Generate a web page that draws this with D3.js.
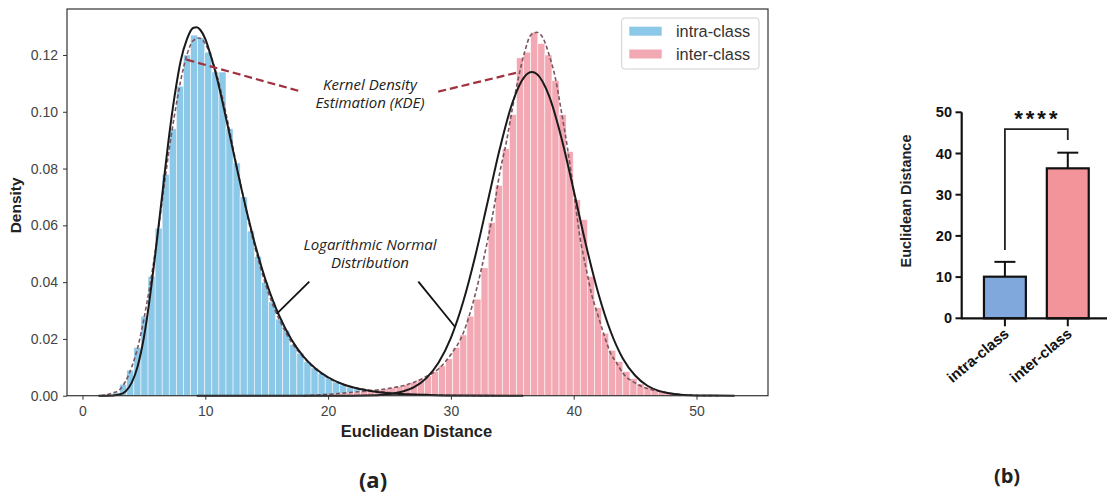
<!DOCTYPE html>
<html><head><meta charset="utf-8">
<script src="https://cdn.jsdelivr.net/npm/d3@7"></script>
<style>body{margin:0;background:#fff}svg{display:block}</style>
</head><body>
<svg id="chart" width="1107" height="495"></svg>
<script>
// ---------- data: panel (a) histogram ----------
const binStart = 1.3;
const binWidth = 0.577;
const intraHist = [0,0.0003,0.001,0.004,0.009,0.017,0.028,0.042,0.059,0.078,0.094,0.109,0.120,0.127,0.126,0.121,0.114,0.114,0.094,0.082,0.070,0.058,0.049,0.040,0.033,0.027,0.023,0.018,0.015,0.012,0.0098,0.0078,0.0062,0.0048,0.0038,0.003,0.0024,0.0019,0.0015,0.0012,0.0009,0.0007,0.0005,0.0004,0.0003,0.0002,0.0001];
const interHist = [0,0,0,0,0,0,0,0,0,0,0,0,0,0,0,0,0,0,0,0,0,0,0,0,0,0,0,0,0,0,0,0,0.0004,0.0006,0.0008,0.001,0.0013,0.0016,0.0018,0.0021,0.0024,0.0028,0.0033,0.0039,0.0047,0.0058,0.0070,0.0085,0.0105,0.013,0.017,0.0214,0.028,0.034,0.045,0.061,0.074,0.087,0.099,0.119,0.121,0.128,0.124,0.120,0.111,0.099,0.086,0.069,0.062,0.042,0.031,0.022,0.016,0.012,0.0085,0.006,0.0042,0.003,0.002,0.0014,0.0009,0.0006,0.0003,0.0002,0.0001];
// KDE curves [distance, density]
const intraKDE = [[1.5,0],[2.5,0.001],[3,0.002],[3.5,0.005],[4,0.010],[4.5,0.017],[5,0.027],[5.5,0.039],[6,0.053],[6.5,0.069],[7,0.085],[7.5,0.099],[8,0.111],[8.5,0.120],[9,0.125],[9.5,0.126],[10,0.124],[10.5,0.119],[11,0.112],[11.5,0.103],[12,0.093],[12.5,0.082],[13,0.072],[13.5,0.062],[14,0.053],[14.5,0.045],[15,0.038],[15.5,0.032],[16,0.027],[17,0.019],[18,0.0135],[19,0.0093],[20,0.0063],[21,0.0043],[22,0.003],[23,0.0022],[24,0.0016],[25,0.0011],[26,0.0007],[27,0.0004],[28,0.0002],[30,0.0001],[34,0]];
const interKDE = [[18,0],[20,0.0005],[22,0.0012],[24,0.002],[25,0.0026],[26,0.0034],[27,0.0047],[28,0.0068],[29,0.0095],[30,0.0145],[31,0.022],[32,0.036],[32.5,0.045],[33,0.055],[33.5,0.066],[34,0.079],[34.5,0.089],[35,0.101],[35.5,0.112],[36,0.121],[36.5,0.127],[37,0.128],[37.5,0.126],[38,0.120],[38.5,0.112],[39,0.100],[39.5,0.087],[40,0.072],[40.5,0.056],[41,0.045],[41.5,0.035],[42,0.028],[42.5,0.021],[43,0.015],[43.5,0.0115],[44,0.008],[45,0.0045],[46,0.0025],[47,0.0015],[48,0.0008],[49,0.0003],[50,0.0001],[52,0]];
// log-normal fits [distance, density]
const intraFit = [[1.3,0],[2.5,0.0001],[3,0.0004],[3.5,0.0015],[4,0.0045],[4.5,0.0105],[5,0.0205],[5.5,0.035],[6,0.0525],[6.5,0.071],[7,0.0897],[7.5,0.1055],[8,0.118],[8.5,0.1255],[9,0.1295],[9.3,0.1298],[9.6,0.1288],[10,0.1257],[10.5,0.119],[11,0.111],[11.5,0.1015],[12,0.0916],[12.5,0.0815],[13,0.0718],[13.5,0.0627],[14,0.0541],[14.5,0.0465],[15,0.0396],[15.5,0.0336],[16,0.0284],[17,0.0199],[18,0.0138],[19,0.0095],[20,0.0065],[21,0.0044],[22,0.003],[23,0.002],[24,0.0013],[26,0.0006],[28,0.0003],[30,0.0001],[35.9,0]];
const interFit = [[9.3,0],[20,0],[24,0.0002],[25,0.0006],[26,0.0014],[27,0.003],[28,0.0062],[29,0.0117],[30,0.0204],[31,0.0331],[32,0.0495],[33,0.0684],[34,0.0873],[35,0.1031],[36,0.1124],[36.6,0.114],[37,0.1133],[38,0.1055],[39,0.0908],[40,0.0723],[41,0.0531],[42,0.0361],[43,0.0227],[44,0.0131],[45,0.0071],[46,0.0035],[47,0.0016],[48,0.0007],[50,0.0001],[53.1,0]];
const xTicksA = [0,10,20,30,40,50];
const yTicksA = [0,0.02,0.04,0.06,0.08,0.10,0.12];
const legendLabels = ["intra-class","inter-class"];

// ---------- data: panel (b) ----------
const groups = ["intra-class","inter-class"];
const means = [10.1, 36.4];
const sds = [3.6, 3.8];
const yTicksB = [0,10,20,30,40,50];
const bracketLegs = [16.6, 45.9, 43.3]; // left foot, top, right foot
const sigLabel = "****";

const svg = d3.select("#chart");
const blue = "#8cc8e8", pink = "#f3a9b3";

// ---------- panel (a) ----------
const x = d3.scaleLinear().domain([-1.26, 55.82]).range([67, 768]);
const y = d3.scaleLinear().domain([0, 0.1362]).range([395.7, 9]);
const gA = svg.append("g");

function drawHist(arr, color){
  gA.append("g").selectAll("rect").data(arr.map((h,i)=>({h,i})).filter(d=>d.h>0)).join("rect")
    .attr("x", d=>x(binStart + d.i*binWidth))
    .attr("width", x(binWidth)-x(0))
    .attr("y", d=>y(d.h))
    .attr("height", d=>y(0)-y(d.h))
    .attr("fill", color)
    .attr("stroke", "#fff").attr("stroke-width", 0.7).attr("stroke-opacity", 0.75);
}
drawHist(intraHist, blue);
drawHist(interHist, pink);

const line = d3.line().x(d=>x(d[0])).y(d=>y(d[1])).curve(d3.curveMonotoneX);
[intraKDE, interKDE].forEach(k=>{
  gA.append("path").attr("d", line(k)).attr("fill","none")
    .attr("stroke","#7a5660").attr("stroke-width",1.6).attr("stroke-dasharray","4,2.5");
});
[intraFit, interFit].forEach(k=>{
  gA.append("path").attr("d", line(k)).attr("fill","none")
    .attr("stroke","#1a1a1a").attr("stroke-width",2);
});

// frame
gA.append("rect").attr("x", x.range()[0]).attr("y", y.range()[1])
  .attr("width", x.range()[1]-x.range()[0]).attr("height", y.range()[0]-y.range()[1])
  .attr("fill","none").attr("stroke","#333").attr("stroke-width",1.2);

// axes
const axX = gA.append("g").attr("transform",`translate(0,${y(0)})`)
  .call(d3.axisBottom(x).tickValues(xTicksA).tickSize(4).tickFormat(d3.format("d")));
const axY = gA.append("g").attr("transform",`translate(${x.range()[0]},0)`)
  .call(d3.axisLeft(y).tickValues(yTicksA).tickSize(4).tickFormat(d3.format(".2f")));
[axX, axY].forEach(a=>{
  a.select(".domain").remove();
  a.selectAll(".tick line").attr("stroke","#333");
  a.selectAll("text").attr("font-family","Liberation Sans, Arial, sans-serif").attr("font-size",14).attr("fill","#444");
});
axX.selectAll("text").attr("dy","0.95em");
axY.selectAll("text").attr("dx","-2");

gA.append("text").attr("x", (x.range()[0]+x.range()[1])/2 - 1).attr("y", 437)
  .attr("text-anchor","middle").attr("font-family","Liberation Sans, Arial, sans-serif")
  .attr("font-weight","bold").attr("font-size",16.5).attr("fill","#222").text("Euclidean Distance");
gA.append("text").attr("transform",`translate(21,${(y.range()[0]+y.range()[1])/2+3}) rotate(-90)`)
  .attr("text-anchor","middle").attr("font-family","Liberation Sans, Arial, sans-serif")
  .attr("font-weight","bold").attr("font-size",15.5).attr("fill","#222").text("Density");

// annotations (in data coordinates)
const kdeText = {x:23.41, y:0.1076, lines:["Kernel Density","Estimation (KDE)"]};
const kdeArrows = [[[17.57,0.1074],[8.35,0.1185]],[[28.97,0.1071],[35.49,0.1139]]];
const fitText = {x:23.41, y:0.0513, lines:["Logarithmic Normal","Distribution"]};
const fitArrows = [[[18.47,0.0402],[15.81,0.0288]],[[27.35,0.0402],[30.33,0.0243]]];

kdeArrows.forEach(a=>gA.append("line").attr("x1",x(a[0][0])).attr("y1",y(a[0][1])).attr("x2",x(a[1][0])).attr("y2",y(a[1][1]))
  .attr("stroke","#a1313f").attr("stroke-width",2.2).attr("stroke-dasharray","8,4"));
fitArrows.forEach(a=>gA.append("line").attr("x1",x(a[0][0])).attr("y1",y(a[0][1])).attr("x2",x(a[1][0])).attr("y2",y(a[1][1]))
  .attr("stroke","#111").attr("stroke-width",1.8));
[kdeText, fitText].forEach(t=>{
  t.lines.forEach((l,i)=>gA.append("text").attr("x",x(t.x)).attr("y",y(t.y)+i*18)
    .attr("text-anchor","middle").attr("font-family","Open Sans, sans-serif").attr("font-style","italic")
    .attr("font-size",15).attr("fill","#222").text(l));
});

// legend
const lg = gA.append("g");
lg.append("rect").attr("x",621.7).attr("y",18).attr("width",137.3).attr("height",51).attr("rx",3)
  .attr("fill","#fff").attr("stroke","#d0d0d0");
legendLabels.forEach((l,i)=>{
  lg.append("rect").attr("x",629.3).attr("y",26.7+i*22.8).attr("width",32.4).attr("height",9).attr("fill",[blue,pink][i]);
  lg.append("text").attr("x",676).attr("y",37+i*22.8).attr("font-family","Liberation Sans, Arial, sans-serif")
    .attr("font-size",16.3).attr("fill","#333").text(l);
});

gA.append("text").attr("x",373).attr("y",488).attr("text-anchor","middle")
  .attr("font-family","Open Sans, sans-serif").attr("font-weight","bold").attr("font-size",22).attr("fill","#222").text("(a)");

// ---------- panel (b) ----------
const xb = d3.scaleBand().domain(groups).range([961.7, 1111]).paddingInner(1/3).paddingOuter(0.354);
const yb = d3.scaleLinear().domain([0,50]).range([318.3, 112.3]);
const gB = svg.append("g");
const barColors = ["#80a8dc","#f3939a"];

gB.selectAll("rect.bar").data(groups).join("rect").attr("class","bar")
  .attr("x", d=>xb(d)).attr("width", xb.bandwidth())
  .attr("y", (d,i)=>yb(means[i])).attr("height",(d,i)=>yb(0)-yb(means[i]))
  .attr("fill",(d,i)=>barColors[i]).attr("stroke","#111").attr("stroke-width",2.2);
// error bars (upper)
groups.forEach((g,i)=>{
  const cx = xb(g)+xb.bandwidth()/2;
  gB.append("line").attr("x1",cx).attr("x2",cx).attr("y1",yb(means[i])).attr("y2",yb(means[i]+sds[i])).attr("stroke","#111").attr("stroke-width",2);
  gB.append("line").attr("x1",cx-10.5).attr("x2",cx+10.5).attr("y1",yb(means[i]+sds[i])).attr("y2",yb(means[i]+sds[i])).attr("stroke","#111").attr("stroke-width",2);
});
// axes
gB.append("line").attr("x1",961.7).attr("x2",1107).attr("y1",yb(0)).attr("y2",yb(0)).attr("stroke","#111").attr("stroke-width",2.2);
gB.append("line").attr("x1",961.7).attr("x2",961.7).attr("y1",yb(0)+1).attr("y2",yb(50)).attr("stroke","#111").attr("stroke-width",2.2);
yTicksB.forEach(t=>{
  gB.append("line").attr("x1",955.5).attr("x2",961.7).attr("y1",yb(t)).attr("y2",yb(t)).attr("stroke","#111").attr("stroke-width",2);
  gB.append("text").attr("x",952).attr("y",yb(t)+5).attr("text-anchor","end")
    .attr("font-family","Liberation Sans, Arial, sans-serif").attr("font-weight","bold").attr("font-size",14.5).attr("fill","#111").text(t);
});
groups.forEach((g,i)=>{
  const cx = xb(g)+xb.bandwidth()/2;
  gB.append("line").attr("x1",cx).attr("x2",cx).attr("y1",yb(0)).attr("y2",yb(0)+8).attr("stroke","#111").attr("stroke-width",2);
  gB.append("text").attr("transform",`translate(${cx+5},${yb(0)+17}) rotate(-40)`).attr("text-anchor","end")
    .attr("font-family","Liberation Sans, Arial, sans-serif").attr("font-weight","bold").attr("font-size",15).attr("fill","#111").text(g);
});
gB.append("text").attr("transform",`translate(911,201) rotate(-90)`).attr("text-anchor","middle")
  .attr("font-family","Liberation Sans, Arial, sans-serif").attr("font-weight","bold").attr("font-size",14.5).attr("fill","#222").text("Euclidean Distance");
// significance bracket
const c0 = xb(groups[0])+xb.bandwidth()/2, c1 = xb(groups[1])+xb.bandwidth()/2;
gB.append("path").attr("d",`M${c0},${yb(bracketLegs[0])}V${yb(bracketLegs[1])}H${c1}V${yb(bracketLegs[2])}`)
  .attr("fill","none").attr("stroke","#222").attr("stroke-width",1.8);
gB.append("text").attr("x",(c0+c1)/2+1).attr("y",126).attr("text-anchor","middle")
  .attr("font-family","Liberation Sans, Arial, sans-serif").attr("font-weight","bold").attr("font-size",22)
  .attr("letter-spacing",3).attr("fill","#111").text(sigLabel);
gB.append("text").attr("x",1007).attr("y",483).attr("text-anchor","middle")
  .attr("font-family","Open Sans, sans-serif").attr("font-weight","bold").attr("font-size",20).attr("fill","#222").text("(b)");
</script>
</body></html>
